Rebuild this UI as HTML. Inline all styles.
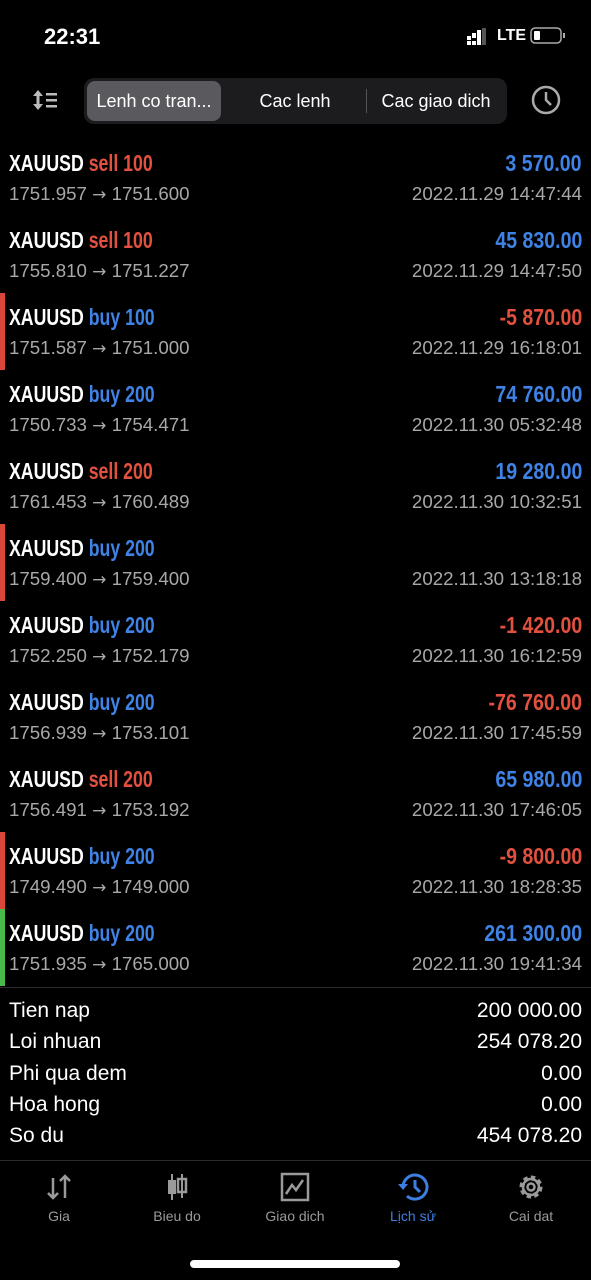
<!DOCTYPE html>
<html><head><meta charset="utf-8">
<style>
*{margin:0;padding:0;box-sizing:border-box}
body{width:591px;height:1280px;background:#000;color:#fff;font-family:"Liberation Sans",sans-serif;position:relative;overflow:hidden}
.abs{position:absolute}
.row{position:absolute;left:0;width:591px;height:77px}
.bar{position:absolute;left:0;top:0;width:5px;height:77px}
.h{position:absolute;left:9px;top:11px;font-weight:bold;font-size:23px;transform:scaleX(0.77);transform-origin:left top;white-space:nowrap}
.pv{position:absolute;right:9px;top:11px;font-weight:bold;font-size:23px;transform:scaleX(0.85);transform-origin:right top;white-space:nowrap}
.s{position:absolute;top:44px;font-size:18.7px;color:#a8a8a8;white-space:nowrap}
.ar{font-family:"DejaVu Sans",sans-serif;font-size:17px}
.sum{position:absolute;left:0;width:591px;font-size:21px;height:31px}
.sum span{position:absolute}
.tab{position:absolute;top:1172px;width:118px;text-align:center;font-size:14px;color:#9a9a9a}
.tab svg{display:block;margin:0 auto 6px}
</style></head><body>
<div class="abs" style="left:44px;top:24px;font-size:22px;font-weight:bold">22:31</div>
<div class="abs" style="left:467px;top:28px">
<svg width="24" height="18"><rect x="0" y="8" width="4" height="4" fill="#fff"/><rect x="0" y="13" width="4" height="4" fill="#fff"/><rect x="5" y="5" width="4" height="5" fill="#fff"/><rect x="5" y="13" width="4" height="4" fill="#fff"/><rect x="10" y="2" width="4" height="15" fill="#fff"/><rect x="15" y="0" width="4" height="17" fill="#555"/></svg></div>
<div class="abs" style="left:497px;top:27px;font-size:16px;font-weight:bold">LTE</div>
<div class="abs" style="left:530px;top:26px"><svg width="36" height="20"><rect x="1" y="2" width="30" height="15" rx="4" fill="none" stroke="#aaa" stroke-width="1.5"/><rect x="4" y="5" width="6" height="9" rx="1" fill="#fff"/><rect x="33" y="7" width="2" height="5" fill="#aaa"/></svg></div>

<div class="abs" style="left:32px;top:88px"><svg width="28" height="24"><path d="M6 2 L1 8 H11 Z M6 22 L1 16 H11 Z" fill="#bbb"/><rect x="4.5" y="6" width="3" height="12" fill="#bbb"/><rect x="14" y="5" width="11" height="2.5" fill="#bbb"/><rect x="14" y="11" width="11" height="2.5" fill="#bbb"/><rect x="14" y="17" width="11" height="2.5" fill="#bbb"/></svg></div>
<div class="abs" style="left:84px;top:78px;width:423px;height:46px;background:#1c1c1e;border-radius:10px"></div>
<div class="abs" style="left:87px;top:81px;width:134px;height:40px;background:#5a5a5e;border-radius:8px;font-size:18px;line-height:40px;text-align:center">Lenh co tran...</div>
<div class="abs" style="left:228px;top:81px;width:134px;height:40px;font-size:18px;line-height:40px;text-align:center">Cac lenh</div>
<div class="abs" style="left:366px;top:89px;width:1px;height:24px;background:#555"></div>
<div class="abs" style="left:368px;top:81px;width:136px;height:40px;font-size:18px;line-height:40px;text-align:center">Cac giao dich</div>
<div class="abs" style="left:530px;top:84px"><svg width="32" height="32"><circle cx="16" cy="16" r="13" fill="none" stroke="#aaa" stroke-width="2.5"/><path d="M16 8 V16 L21 21" fill="none" stroke="#aaa" stroke-width="2.5"/></svg></div>

<div id="list"></div>

<div class="abs" style="left:0;top:987px;width:591px;height:1px;background:#2a2a2a"></div>
<div id="summary"></div>
<div class="abs" style="left:0;top:1160px;width:591px;height:1px;background:#2a2a2a"></div>

<div class="tab" style="left:0"><svg width="30" height="30"><path d="M9 6 V26 M4 21 L9 26 L14 21 M21 26 V4 M16 9 L21 4 L26 9" fill="none" stroke="#9a9a9a" stroke-width="2.5"/></svg>Gia</div>
<div class="tab" style="left:118px"><svg width="30" height="30"><path d="M10 2 V28 M20 2 V26" stroke="#9a9a9a" stroke-width="2"/><rect x="6" y="8" width="8" height="14" fill="#9a9a9a"/><rect x="16" y="7" width="8" height="13" fill="none" stroke="#9a9a9a" stroke-width="2.5"/></svg>Bieu do</div>
<div class="tab" style="left:236px"><svg width="30" height="30"><rect x="2" y="2" width="26" height="26" fill="none" stroke="#9a9a9a" stroke-width="2.5"/><path d="M6 22 L12 13 L16 18 L23 8" fill="none" stroke="#9a9a9a" stroke-width="2.5"/></svg>Giao dich</div>
<div class="tab" style="left:354px;color:#3d7fe0"><svg width="32" height="30"><path d="M6 15 A12 12 0 1 1 10 24" fill="none" stroke="#3d7fe0" stroke-width="3"/><path d="M1 12 L6 18 L11 12 Z" fill="#3d7fe0"/><path d="M18 8 V15 L23 20" fill="none" stroke="#3d7fe0" stroke-width="3"/></svg>Lịch sử</div>
<div class="tab" style="left:472px"><svg width="30" height="30"><circle cx="15" cy="15" r="9" fill="none" stroke="#9a9a9a" stroke-width="5" stroke-dasharray="4 3"/><circle cx="15" cy="15" r="8" fill="none" stroke="#9a9a9a" stroke-width="2.5"/><circle cx="15" cy="15" r="3.5" fill="none" stroke="#9a9a9a" stroke-width="2.5"/></svg>Cai dat</div>
<div class="abs" style="left:190px;top:1260px;width:210px;height:8px;border-radius:4px;background:#fff"></div>

<script>
const sides=["sell","sell","buy","buy","sell","buy","buy","buy","sell","buy","buy"];
const volumes=["100","100","100","200","200","200","200","200","200","200","200"];
const openPrices=["1751.957","1755.810","1751.587","1750.733","1761.453","1759.400","1752.250","1756.939","1756.491","1749.490","1751.935"];
const closePrices=["1751.600","1751.227","1751.000","1754.471","1760.489","1759.400","1752.179","1753.101","1753.192","1749.000","1765.000"];
const profits=["3 570.00","45 830.00","-5 870.00","74 760.00","19 280.00","","-1 420.00","-76 760.00","65 980.00","-9 800.00","261 300.00"];
const times=["2022.11.29 14:47:44","2022.11.29 14:47:50","2022.11.29 16:18:01","2022.11.30 05:32:48","2022.11.30 10:32:51","2022.11.30 13:18:18","2022.11.30 16:12:59","2022.11.30 17:45:59","2022.11.30 17:46:05","2022.11.30 18:28:35","2022.11.30 19:41:34"];
const markers=["","","red","","","red","","","","red","green"];
const sumLabels=["Tien nap","Loi nhuan","Phi qua dem","Hoa hong","So du"];
const sumValues=["200 000.00","254 078.20","0.00","0.00","454 078.20"];
const RED="#e2513f",BLUE="#3f83e6";
const list=document.getElementById('list');
sides.forEach((s,i)=>{
  const r=document.createElement('div');r.className='row';r.style.top=(139+77*i)+'px';
  
  
  let html='';
  if(markers[i]) html+='<div class="bar" style="background:'+(markers[i]=='red'?'#d8473a':'#49b94a')+'"></div>';
  html+='<div class="h">XAUUSD <span style="color:'+(s=='sell'?RED:BLUE)+'">'+s+' '+volumes[i]+'</span></div>';
  if(profits[i]) html+='<div class="pv" style="color:'+(profits[i][0]=='-'?RED:BLUE)+'">'+profits[i]+'</div>';
  html+='<div class="s" style="left:9px">'+openPrices[i]+' <span class="ar">→</span> '+closePrices[i]+'</div>';
  html+='<div class="s" style="right:9px">'+times[i]+'</div>';
  r.innerHTML=html;list.appendChild(r);
});
const sum=document.getElementById('summary');
sumLabels.forEach((l,i)=>{
  const d=document.createElement('div');d.className='sum';d.style.top=(999+31.3*i)+'px';
  
  
  d.innerHTML='<span style="left:9px">'+l+'</span><span style="right:9px">'+sumValues[i]+'</span>';
  sum.appendChild(d);
});
</script>
</body></html>
